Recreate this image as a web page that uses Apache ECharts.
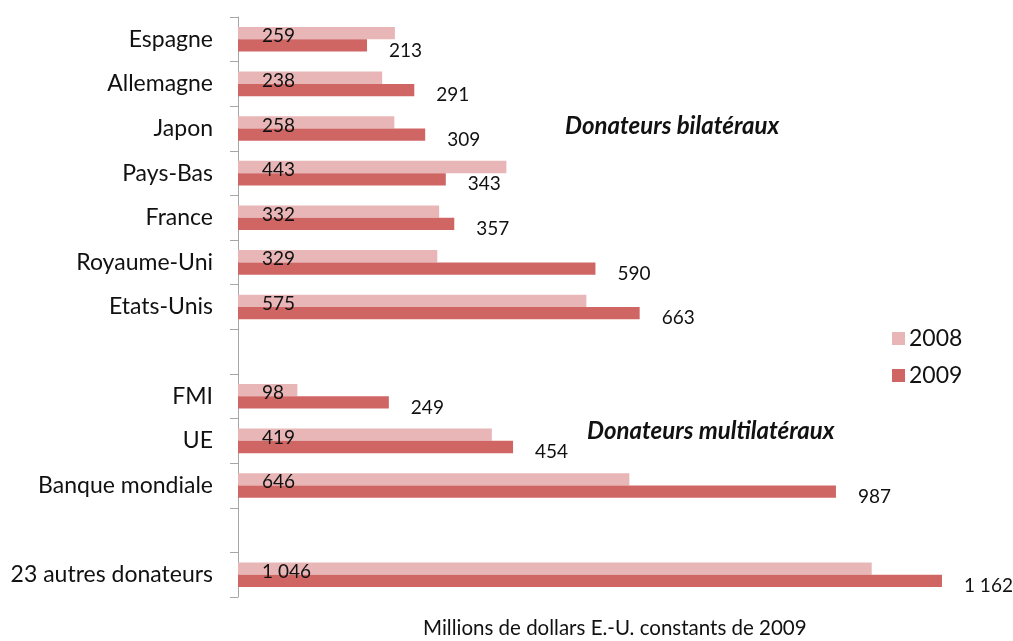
<!DOCTYPE html>
<html>
<head>
<meta charset="utf-8">
<script src="https://cdn.jsdelivr.net/npm/echarts@6/dist/echarts.min.js"></script>
<style>
  html, body { margin: 0; padding: 0; background: #ffffff; }
  #chart { width: 1013px; height: 641px; }
</style>
</head>
<body>
<div id="chart"></div>
<script>
const categories = ['Espagne', 'Allemagne', 'Japon', 'Pays-Bas', 'France', 'Royaume-Uni', 'Etats-Unis', '', 'FMI', 'UE', 'Banque mondiale', '', '23 autres donateurs'];
const values2008 = [259, 238, 258, 443, 332, 329, 575, null, 98, 419, 646, null, 1046];
const values2009 = [213, 291, 309, 343, 357, 590, 663, null, 249, 454, 987, null, 1162];
const seriesNames = ['2008', '2009'];
const groupLabels = ['Donateurs bilatéraux', 'Donateurs multilatéraux'];
const axisTitle = 'Millions de dollars E.-U. constants de 2009';

const FONT = 'Lato, "Open Sans", sans-serif';
const fmt = v => String(v).replace(/\B(?=(\d{3})+(?!\d))/g, ' ');

const chart = echarts.init(document.getElementById('chart'), null, { renderer: 'canvas' });
chart.setOption({
  backgroundColor: '#ffffff',
  animation: false,
  grid: { left: 238, right: 48, top: 17, bottom: 44, containLabel: false },
  xAxis: {
    type: 'value', min: 0, max: 1200,
    axisLine: { show: false }, axisTick: { show: false },
    axisLabel: { show: false }, splitLine: { show: false }
  },
  yAxis: {
    type: 'category', data: categories, inverse: true,
    axisLine: { show: true, lineStyle: { color: '#a6a6a6', width: 1 } },
    axisTick: { show: true, length: 8, lineStyle: { color: '#a6a6a6' } },
    axisLabel: { margin: 25, fontFamily: FONT, fontSize: 23, color: '#111111', padding: [7, 0, 0, 0] }
  },
  legend: {
    orient: 'vertical', left: 887, top: 322,
    itemWidth: 13, itemHeight: 13, itemGap: 14, icon: 'rect',
    textStyle: { fontFamily: FONT, fontSize: 23, color: '#111111', padding: [2, 0, 0, -1] },
    data: seriesNames
  },
  series: [
    {
      name: seriesNames[0], type: 'bar', data: values2008,
      barWidth: 12.3, barGap: '0%',
      itemStyle: { color: '#e8b6b7' },
      label: {
        show: true, position: 'insideLeft', distance: 24, offset: [0, 3],
        fontFamily: FONT, fontSize: 19, color: '#111111',
        formatter: p => fmt(p.value)
      }
    },
    {
      name: seriesNames[1], type: 'bar', data: values2009,
      barWidth: 12.3, barGap: '0%',
      itemStyle: { color: '#cf6664' },
      label: {
        show: true, position: 'right', distance: 22, offset: [0, 5],
        fontFamily: FONT, fontSize: 19, color: '#111111',
        formatter: p => fmt(p.value)
      }
    }
  ],
  graphic: [
    { type: 'text', left: 565, top: 114, style: { text: groupLabels[0], font: 'italic bold 24px ' + FONT, fill: '#111111' } },
    { type: 'text', left: 587, top: 419, style: { text: groupLabels[1], font: 'italic bold 24px ' + FONT, fill: '#111111' } },
    { type: 'text', left: 423, top: 618, style: { text: axisTitle, font: '20.5px ' + FONT, fill: '#111111' } }
  ]
});
</script>
</body>
</html>
